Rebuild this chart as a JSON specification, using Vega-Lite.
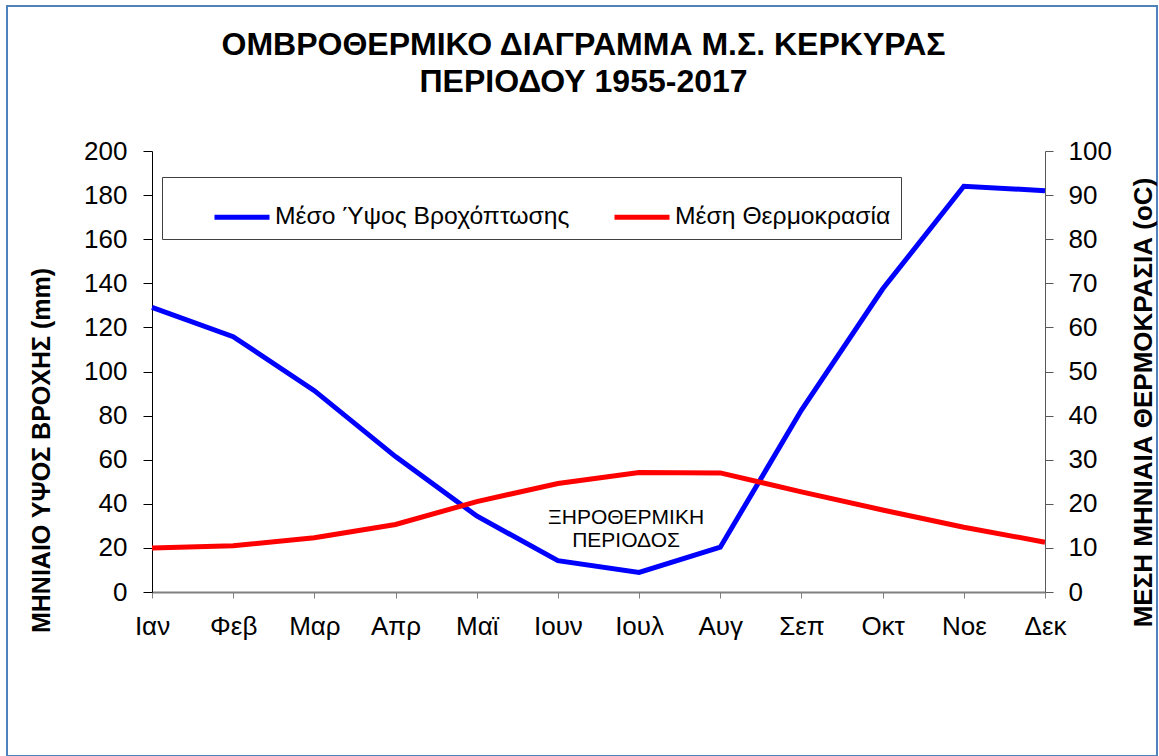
{
  "$schema": "https://vega.github.io/schema/vega-lite/v6.json",
  "width": 1150,
  "height": 750,
  "autosize": {"type": "none"},
  "padding": {"left": 7, "top": 6, "right": 2, "bottom": 0},
  "background": "white",
  "config": {"view": {"stroke": "#4F81BD", "strokeWidth": 2}, "font": "Liberation Sans"},
  "title": {
    "text": ["ΟΜΒΡΟΘΕΡΜΙΚΟ ΔΙΑΓΡΑΜΜΑ Μ.Σ. ΚΕΡΚΥΡΑΣ", "ΠΕΡΙΟΔΟΥ 1955-2017"],
    "font": "Liberation Sans",
    "fontSize": 32,
    "fontWeight": "bold",
    "color": "black",
    "lineHeight": 37,
    "anchor": "middle",
    "frame": "group",
    "offset": -92.5,
    "dx": 1.5
  },
  "data": {
    "values": [
      {"month": "Ιαν", "rain": 129.1, "temp": 10.0},
      {"month": "Φεβ", "rain": 115.8, "temp": 10.5},
      {"month": "Μαρ", "rain": 91.3, "temp": 12.3},
      {"month": "Απρ", "rain": 61.4, "temp": 15.3},
      {"month": "Μαϊ", "rain": 34.5, "temp": 20.5},
      {"month": "Ιουν", "rain": 14.2, "temp": 24.6},
      {"month": "Ιουλ", "rain": 8.9, "temp": 27.1},
      {"month": "Αυγ", "rain": 20.3, "temp": 27.0},
      {"month": "Σεπ", "rain": 82.5, "temp": 22.7},
      {"month": "Οκτ", "rain": 137.4, "temp": 18.6},
      {"month": "Νοε", "rain": 184.0, "temp": 14.7},
      {"month": "Δεκ", "rain": 182.0, "temp": 11.3}
    ]
  },
  "layer": [
    {
      "mark": {"type": "line", "strokeWidth": 5},
      "encoding": {
        "x": {
          "field": "month",
          "type": "ordinal",
          "scale": {"type": "point", "padding": 0, "range": [145, 1038], "domain": ["Ιαν", "Φεβ", "Μαρ", "Απρ", "Μαϊ", "Ιουν", "Ιουλ", "Αυγ", "Σεπ", "Οκτ", "Νοε", "Δεκ"]},
          "axis": {
            "title": null,
            "offset": -164,
            "labelAngle": 0,
            "tickSize": 6,
            "labelPadding": 15,
            "labelFont": "Liberation Sans",
            "labelFontSize": 26,
            "labelColor": "black",
            "domainColor": "#808080",
            "tickColor": "#808080",
            "domainWidth": 2,
            "grid": false
          }
        },
        "y": {
          "field": "rain",
          "type": "quantitative",
          "scale": {"domain": [0, 200], "nice": false, "range": [586, 145]},
          "axis": {
            "offset": -145,
            "values": [0, 20, 40, 60, 80, 100, 120, 140, 160, 180, 200],
            "grid": false,
            "tickSize": 9,
            "labelPadding": 16,
            "labelFont": "Liberation Sans",
            "labelFontSize": 26,
            "labelColor": "black",
            "domainColor": "black",
            "tickColor": "black",
            "title": "ΜΗΝΙΑΙΟ ΥΨΟΣ ΒΡΟΧΗΣ (mm)",
            "titleFont": "Liberation Sans",
            "titleFontSize": 25,
            "titleFontWeight": "bold",
            "titleColor": "black",
            "titleAngle": 270,
            "titleX": -111,
            "titleY": 444,
            "titleAlign": "center",
            "titleBaseline": "middle"
          }
        },
        "color": {
          "datum": "Μέσο Ύψος Βροχόπτωσης",
          "type": "nominal",
          "scale": {"domain": ["Μέσο Ύψος Βροχόπτωσης", "Μέση Θερμοκρασία"], "range": ["#0000FF", "#FF0000"]},
          "legend": {
            "title": null,
            "orient": "none",
            "legendX": 155,
            "legendY": 171,
            "direction": "horizontal",
            "symbolType": "stroke",
            "symbolSize": 3025,
            "symbolStrokeWidth": 5,
            "symbolOffset": 40,
            "labelOffset": 3,
            "labelFont": "Liberation Sans",
            "labelFontSize": 24.7,
            "labelColor": "black",
            "labelLimit": 500,
            "columnPadding": 2,
            "padding": 10,
            "strokeColor": "#404040",
            "fillColor": "white"
          }
        }
      }
    },
    {
      "mark": {"type": "line", "strokeWidth": 5},
      "encoding": {
        "x": {"field": "month", "type": "ordinal"},
        "y": {
          "field": "temp",
          "type": "quantitative",
          "scale": {"domain": [0, 100], "nice": false, "range": [586, 145]},
          "axis": {
            "orient": "right",
            "offset": -112,
            "values": [0, 10, 20, 30, 40, 50, 60, 70, 80, 90, 100],
            "grid": false,
            "tickSize": 8,
            "labelPadding": 15,
            "labelFont": "Liberation Sans",
            "labelFontSize": 26,
            "labelColor": "black",
            "domainColor": "#595959",
            "tickColor": "#595959",
            "title": "ΜΕΣΗ ΜΗΝΙΑΙΑ ΘΕΡΜΟΚΡΑΣΙΑ (oC)",
            "titleFont": "Liberation Sans",
            "titleFontSize": 26,
            "titleFontWeight": "bold",
            "titleColor": "black",
            "titleAngle": 270,
            "titleX": 98,
            "titleY": 396,
            "titleAlign": "center",
            "titleBaseline": "middle"
          }
        },
        "color": {"datum": "Μέση Θερμοκρασία", "type": "nominal"}
      }
    },
    {
      "data": {"values": [{}]},
      "mark": {
        "type": "text",
        "text": ["ΞΗΡΟΘΕΡΜΙΚΗ", "ΠΕΡΙΟΔΟΣ"],
        "font": "Liberation Sans",
        "fontSize": 21,
        "color": "black",
        "lineHeight": 23,
        "align": "center",
        "baseline": "middle",
        "dx": -13
      },
      "encoding": {
        "x": {"datum": "Ιουλ", "type": "ordinal"},
        "y": {"datum": 33.4, "type": "quantitative", "scale": {"domain": [0, 200], "nice": false, "range": [586, 145]}, "axis": null}
      }
    }
  ],
  "resolve": {"scale": {"y": "independent"}}
}
